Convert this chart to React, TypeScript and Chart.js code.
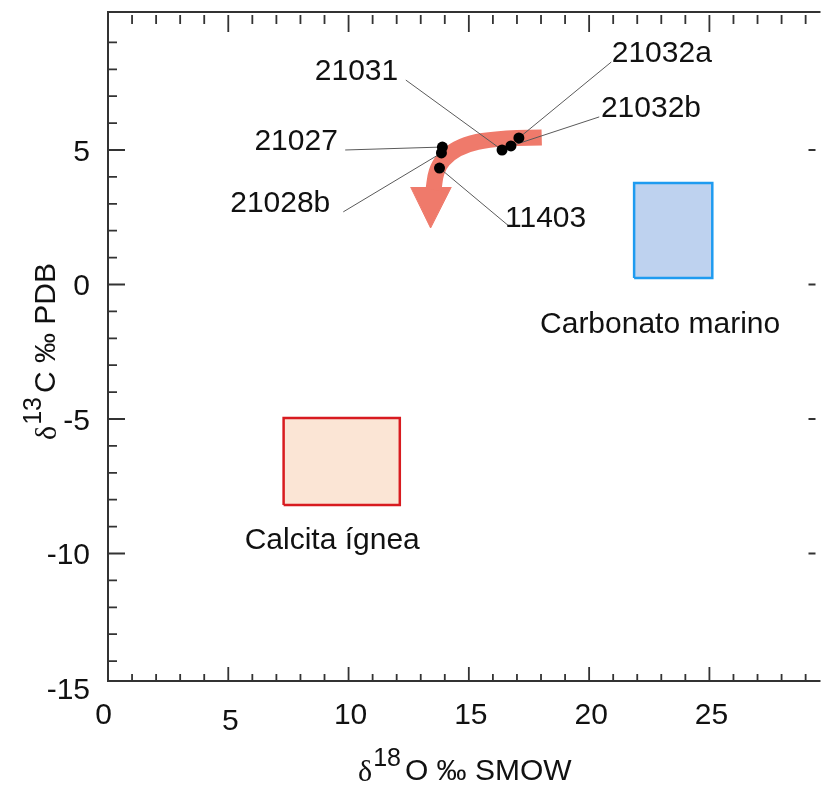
import React, { useEffect, useRef } from "react";
import { Chart, registerables } from "chart.js";

Chart.register(...registerables);

// ---- Data (δ18O ‰ SMOW, δ13C ‰ PDB) ----
const sampleNames = ["21027", "21028b", "11403", "21031", "21032b", "21032a"];
const sampleO18 = [13.9, 13.86, 13.78, 16.38, 16.75, 17.08];
const sampleC13 = [5.11, 4.89, 4.33, 5.0, 5.15, 5.45];

// label anchors (text centre / baseline) and leader-line start points
const labelO18 = [7.82, 7.16, 18.19, 10.33, 22.57, 23.02];
const labelC13 = [5.0, 2.7, 2.14, 7.6, 6.23, 8.27];
const leaderO18 = [9.86, 9.78, 16.71, 12.38, 20.42, 20.92];
const leaderC13 = [5.0, 2.7, 2.14, 7.6, 6.23, 8.27];

// reference fields
const fieldNames = ["Calcita ígnea", "Carbonato marino"];
const fieldO18Min = [7.3, 21.87];
const fieldO18Max = [12.13, 25.12];
const fieldC13Min = [-8.2, 0.24];
const fieldC13Max = [-4.96, 3.77];
const fieldLabelO18 = [9.32, 22.95];
const fieldLabelC13 = [-9.83, -1.8];

// trend arrow
const arrowO18 = [18.03, 16.58, 15.35, 14.52, 13.94, 13.66, 13.53];
const arrowC13 = [5.46, 5.43, 5.3, 5.04, 4.63, 4.18, 3.52];
const arrowHeadO18 = [12.58, 13.41, 14.27];
const arrowHeadC13 = [3.62, 2.1, 3.62];

// axes
const xMin = 0;
const xMax = 29.41;
const yMin = -14.74;
const yMax = 10.13;
const xTickLabels = [0, 5, 10, 15, 20, 25];
const yTickLabels = [-15, -10, -5, 0, 5];

const SANS = 'Arial, "Liberation Sans", sans-serif';
const SERIF = '"Times New Roman", "Liberation Serif", serif';

const decorPlugin = {
  id: "decor",
  afterDatasetsDraw(chart: any) {
    const { ctx, chartArea: ca, scales } = chart;
    const x = scales.x;
    const y = scales.y;
    ctx.save();

    // sample labels
    ctx.fillStyle = "#111";
    ctx.font = `30px ${SANS}`;
    ctx.textBaseline = "alphabetic";
    ctx.textAlign = "center";
    sampleNames.forEach((n, i) => {
      ctx.fillText(n, x.getPixelForValue(labelO18[i]), y.getPixelForValue(labelC13[i]));
    });
    fieldNames.forEach((n, i) => {
      ctx.fillText(n, x.getPixelForValue(fieldLabelO18[i]), y.getPixelForValue(fieldLabelC13[i]));
    });

    // frame
    ctx.strokeStyle = "#333";
    ctx.lineWidth = 2;
    ctx.beginPath();
    ctx.moveTo(ca.right + 5, ca.top);
    ctx.lineTo(ca.left, ca.top);
    ctx.lineTo(ca.left, ca.bottom);
    ctx.lineTo(ca.right + 5, ca.bottom);
    ctx.stroke();

    // ticks
    ctx.lineWidth = 1.8;
    ctx.beginPath();
    for (let v = Math.ceil(yMin); v <= 9; v++) {
      const py = y.getPixelForValue(v);
      const len = v % 5 === 0 ? 17 : 9;
      ctx.moveTo(ca.left, py);
      ctx.lineTo(ca.left + len, py);
      if (v % 5 === 0) {
        ctx.moveTo(ca.right, py);
        ctx.lineTo(ca.right - 7, py);
      }
    }
    for (let v = Math.ceil(xMin) + 1; v <= Math.floor(xMax); v++) {
      const px = x.getPixelForValue(v);
      const major = v % 5 === 0;
      ctx.moveTo(px, ca.bottom);
      ctx.lineTo(px, ca.bottom - (major ? 14 : 7));
      ctx.moveTo(px, ca.top + 3);
      ctx.lineTo(px, ca.top + 3 + (major ? 17 : 9));
    }
    ctx.stroke();

    // tick labels
    ctx.fillStyle = "#111";
    ctx.font = `30px ${SANS}`;
    ctx.textAlign = "right";
    yTickLabels.forEach((v) => {
      ctx.fillText(String(v), ca.left - 18, y.getPixelForValue(v) + 11);
    });
    ctx.textAlign = "center";
    xTickLabels.forEach((v) => {
      const px = x.getPixelForValue(v);
      const dx = v === 0 ? -4.5 : 2;
      const dy = v === 5 ? 49 : 43;
      ctx.fillText(String(v), px + dx, ca.bottom + dy);
    });

    // axis titles
    const drawTitle = (sup: string, rest: string) => {
      ctx.textAlign = "left";
      let cx = 0;
      ctx.font = `30px ${SERIF}`;
      ctx.fillText("δ", cx, 1);
      cx += ctx.measureText("δ").width + 1;
      ctx.font = `25px ${SANS}`;
      ctx.fillText(sup, cx, -14);
      cx += ctx.measureText(sup).width + 4;
      ctx.font = `30px ${SANS}`;
      ctx.fillText(rest, cx, 0);
    };
    ctx.save();
    ctx.translate(ca.left + 250, ca.bottom + 99);
    drawTitle("18", "O ‰ SMOW");
    ctx.restore();

    ctx.save();
    ctx.translate(55, 440);
    ctx.rotate(-Math.PI / 2);
    drawTitle("13", "C ‰ PDB");
    ctx.restore();

    ctx.restore();
  },
};

export default function App() {
  const canvasRef = useRef<HTMLCanvasElement | null>(null);

  useEffect(() => {
    document.body.style.margin = "0";
    document.body.style.overflow = "hidden";
    const canvas = canvasRef.current;
    if (!canvas) return;

    const pts = (xs: number[], ys: number[]) => xs.map((v, i) => ({ x: v, y: ys[i] }));
    const rect = (i: number) => [
      { x: fieldO18Min[i], y: fieldC13Min[i] },
      { x: fieldO18Max[i], y: fieldC13Min[i] },
      { x: fieldO18Max[i], y: fieldC13Max[i] },
      { x: fieldO18Min[i], y: fieldC13Max[i] },
      { x: fieldO18Min[i], y: fieldC13Min[i] },
    ];

    const leaderSets = sampleNames.map((n, i) => ({
      label: "leader " + n,
      data: [
        { x: leaderO18[i], y: leaderC13[i] },
        { x: sampleO18[i], y: sampleC13[i] },
      ],
      showLine: true,
      borderColor: "#5a5a5a",
      borderWidth: 1,
      pointRadius: 0,
      fill: false,
      order: 2,
    }));

    const chart = new Chart(canvas, {
      type: "scatter",
      data: {
        datasets: [
          {
            label: "Muestras",
            data: pts(sampleO18, sampleC13),
            pointRadius: 5.5,
            pointBackgroundColor: "#000",
            pointBorderWidth: 0,
            showLine: false,
            order: 1,
          },
          ...leaderSets,
          {
            label: "arrow",
            data: pts(arrowO18, arrowC13),
            showLine: true,
            tension: 0.4,
            borderColor: "#ef7a6b",
            borderWidth: 16,
            borderCapStyle: "butt",
            pointRadius: 0,
            fill: false,
            order: 3,
          },
          {
            label: "arrow head",
            data: pts(arrowHeadO18, arrowHeadC13),
            showLine: true,
            borderColor: "#ef7a6b",
            backgroundColor: "#ef7a6b",
            borderWidth: 1,
            pointRadius: 0,
            fill: "shape",
            order: 3,
          },
          {
            label: fieldNames[0],
            data: rect(0),
            showLine: true,
            borderColor: "#d81b20",
            backgroundColor: "#fbe5d5",
            borderWidth: 2.5,
            pointRadius: 0,
            fill: "shape",
            order: 4,
          },
          {
            label: fieldNames[1],
            data: rect(1),
            showLine: true,
            borderColor: "#1e9bf0",
            backgroundColor: "#bed2ef",
            borderWidth: 2.5,
            pointRadius: 0,
            fill: "shape",
            order: 4,
          },
        ],
      },
      options: {
        animation: false,
        responsive: false,
        maintainAspectRatio: false,
        events: [],
        layout: { padding: { left: 108, right: 0, top: 12, bottom: 106 } },
        plugins: {
          legend: { display: false },
          tooltip: { enabled: false },
        },
        scales: {
          x: { type: "linear", min: xMin, max: xMax, display: false },
          y: { type: "linear", min: yMin, max: yMax, display: false },
        },
      },
      plugins: [decorPlugin],
    } as any);

    return () => chart.destroy();
  }, []);

  return (
    <div style={{ width: 821, height: 787, background: "#fff" }}>
      <canvas ref={canvasRef} width={821} height={787} style={{ display: "block" }} />
    </div>
  );
}
